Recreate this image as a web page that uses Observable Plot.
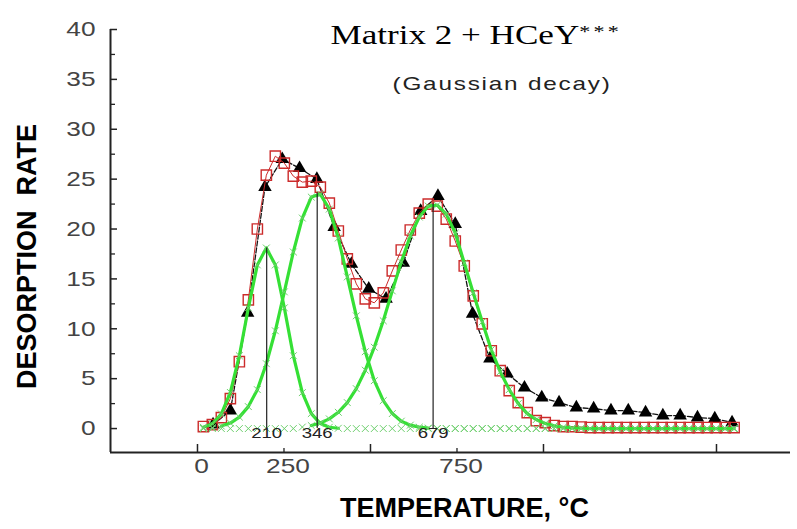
<!DOCTYPE html>
<html>
<head>
<meta charset="utf-8">
<script src="https://cdn.jsdelivr.net/npm/d3@7"></script>
<script src="https://cdn.jsdelivr.net/npm/@observablehq/plot@0.6"></script>
<style>
html, body { margin: 0; padding: 0; background: #fff; }
#chart { width: 797px; height: 529px; }
</style>
</head>
<body>
<div id="chart"></div>
<script>
// ---------- data ----------
const titleMain = "Matrix 2 + HCeY";
const titleSuffix = "***";
const subtitle = "(Gaussian decay)";
const xTitle = "TEMPERATURE, °C";
const yTitle = "DESORPTION  RATE";

// temperatures of the square markers / green fit markers (°C)
const gridT = [17,43,69,95,121,147,173,199,225,251,277,303,329,355,381,407,433,459,485,511,
  537,563,589,615,641,667,693,719,745,771,797,823,849,875,901,927,953,979,1005,1031,
  1057,1083,1109,1135,1161,1187,1213,1239,1265,1291,1317,1343,1369,1395,1421,1447,1473,1499,1525,1551];

// red open squares
const squareRate = [0.2,0.4,1.1,3.0,6.7,12.9,20.0,25.4,27.3,26.6,25.3,24.7,24.8,24.2,22.6,19.8,17.0,14.5,13.0,12.6,
  13.6,15.8,17.9,19.9,21.6,22.5,22.3,21.0,18.8,16.3,13.3,10.5,7.8,5.8,3.8,2.6,1.6,0.8,0.6,0.3,
  0.2,0.2,0.15,0.1,0.1,0.1,0.1,0.1,0.1,0.1,0.1,0.1,0.1,0.1,0.1,0.1,0.1,0.1,0.1,0.1];

// black filled triangles
const triangleT = [45,95,145,195,245,295,345,395,445,495,545,595,645,695,745,795,845,895,945,995,
  1045,1095,1145,1195,1245,1295,1345,1395,1445,1495,1545];
const triangleRate = [0.4,1.8,11.6,24.2,27.0,26.1,25.0,20.2,16.5,14.0,13.0,16.6,21.8,23.3,20.5,11.5,7.0,5.5,4.1,3.1,
  2.6,2.1,2.0,1.8,1.8,1.6,1.3,1.3,1.1,1.0,0.6];

// green Gaussian components, at gridT
const peak1 = [0.13,0.48,1.47,3.62,7.3,12.1,16.4,18.1,16.4,12.1,7.3,3.6,1.5,0.5,0.13,0.03,0,0,0,0,
  0,0,0,0,0,0,0,0,0,0,0,0,0,0,0,0,0,0,0,0,
  0,0,0,0,0,0,0,0,0,0,0,0,0,0,0,0,0,0,0,0];
const peak2 = [0.04,0.1,0.25,0.55,1.15,2.2,3.9,6.5,9.8,13.7,17.7,21.1,23.2,23.5,22.0,19.1,15.2,11.3,7.7,4.8,
  2.8,1.5,0.74,0.34,0.14,0.05,0,0,0,0,0,0,0,0,0,0,0,0,0,0,
  0,0,0,0,0,0,0,0,0,0,0,0,0,0,0,0,0,0,0,0];
const peak3 = [0,0,0,0,0,0,0,0,0,0,0,0.15,0.3,0.55,0.97,1.63,2.6,4.0,5.85,8.15,
  10.8,13.8,16.7,19.3,21.2,22.3,22.4,21.5,19.6,16.6,13.6,10.7,7.9,5.7,3.9,2.5,1.5,0.9,0.5,0.27,
  0.13,0.06,0.03,0,0,0,0,0,0,0,0,0,0,0,0,0,0,0,0,0];
// index range over which each component's thick line is drawn
const lineFrom = [0, 2, 12];
const lineTo = [15, 25, 59];

// peak positions (°C), heights and their labels
const peakT = [200, 346, 681];
const peakHeight = [18.1, 23.6, 22.5];
const peakLabels = ["210", "346", "679"];

// axes
const yTicks = [0,5,10,15,20,25,30,35,40];
const yMinorTicks = [2.5,7.5,12.5,17.5,22.5,27.5,32.5,37.5];
const xMajorTicks = [0,500,1000,1500];
const xMinorTicks = [250,750,1250];
const xTickLabels = [0,250,750];
const xDomain = [-251.4, 1713.9];
const yDomain = [-2.4, 40];

// ---------- build ----------
const W = 797, H = 529, mL = 110, mR = 7, mT = 29, mB = 77;
const frameW = W - mL - mR, frameH = H - mT - mB;
const GREEN = "#35e035", GREENX = "#6dcf6d", RED = "#cc2b2b", INK = "#222";

const squares = gridT.map((t, i) => ({t, v: squareRate[i]}));
const triangles = triangleT.map((t, i) => ({t, v: triangleRate[i]}));
const comps = [peak1, peak2, peak3].map((arr) => arr.map((v, i) => ({t: gridT[i], v, i})));
const compLines = comps.map((c, k) => c.filter(d => d.i >= lineFrom[k] && d.i <= lineTo[k]));
const peaks = peakT.map((t, i) => ({t, h: peakHeight[i], label: peakLabels[i]}));

const plot = Plot.plot({
  width: W, height: H,
  marginLeft: mL, marginRight: mR, marginTop: mT, marginBottom: mB,
  style: {fontFamily: "Liberation Sans, Arial, sans-serif", background: "#fff", overflow: "visible"},
  x: {domain: xDomain, axis: null},
  y: {domain: yDomain, axis: null},
  marks: [
    // data
    Plot.line(triangles, {x: "t", y: "v", stroke: "#111", strokeWidth: 1.3, strokeDasharray: "5,2"}),
    Plot.dot(triangles, {x: "t", y: "v", symbol: "triangle", r: 5, fill: "#000", stroke: "none"}),
    Plot.line(squares, {x: "t", y: "v", stroke: RED, strokeWidth: 1}),
    Plot.dot(squares, {x: "t", y: "v", symbol: "square", r: 5.8, fill: "none", stroke: RED, strokeWidth: 1.4}),
    ...compLines.map(c => Plot.line(c, {x: "t", y: "v", stroke: GREEN, strokeWidth: 3.2})),
    Plot.dot(comps.flat(), {x: "t", y: "v", symbol: "times", r: 3.2, stroke: GREENX, strokeWidth: 1}),
    Plot.ruleX(peaks, {x: "t", y1: 0, y2: "h", stroke: INK, strokeWidth: 1.2}),
    Plot.text(peaks, {x: "t", text: "label", frameAnchor: "bottom", dy: -14.5, fontSize: 14.5, fill: INK, ariaDescription: "peak-label"}),
    // axes
    Plot.ruleX([xDomain[0]], {stroke: INK, strokeWidth: 2}),
    Plot.ruleY([yDomain[0]], {stroke: INK, strokeWidth: 2}),
    Plot.tickY(yTicks, {y: d => d, insetRight: frameW - 7, stroke: INK, strokeWidth: 1.5}),
    Plot.tickY(yMinorTicks, {y: d => d, insetRight: frameW - 5, stroke: INK, strokeWidth: 1.3}),
    Plot.tickX(xMajorTicks, {x: d => d, insetTop: frameH - 8, stroke: INK, strokeWidth: 1.5}),
    Plot.tickX(xMinorTicks, {x: d => d, insetTop: frameH - 4, stroke: INK, strokeWidth: 1.3}),
    Plot.text(yTicks, {y: d => d, text: d => String(d), frameAnchor: "left", dx: -15, textAnchor: "end", fontSize: 21, fill: "#444", ariaDescription: "ytick-label"}),
    Plot.text(xTickLabels, {x: d => d, text: d => String(d), frameAnchor: "bottom", dy: 20, dx: 4, textAnchor: "middle", fontSize: 21, fill: "#444", ariaDescription: "xtick-label"}),
    Plot.text([yTitle], {text: d => d, frameAnchor: "left", dx: -83, dy: 15.5, rotate: -90, textAnchor: "middle", fontSize: 27, fontWeight: "bold", fill: "#000"}),
    Plot.text([xTitle], {text: d => d, frameAnchor: "bottom", dx: 14, dy: 64, textAnchor: "middle", fontSize: 27, fontWeight: "bold", fill: "#000"}),
    // titles
    Plot.text([titleMain], {text: d => d, frameAnchor: "top-left", dx: 220, dy: -4.6, textAnchor: "start", fontSize: 27, fontFamily: "Liberation Serif, Times New Roman, serif", fill: "#000", ariaDescription: "title"}),
    Plot.text([subtitle], {text: d => d, frameAnchor: "top-left", dx: 282, dy: 46.9, textAnchor: "start", fontSize: 19, fill: "#222", ariaDescription: "subtitle"})
  ]
});

document.getElementById("chart").appendChild(plot);

// ---------- text styling tweaks (horizontally stretched lettering of the original) ----------
function textsFor(label) {
  const out = [];
  plot.querySelectorAll(`[aria-description="${label}"]`).forEach(el => {
    if (el.tagName.toLowerCase() === "text") out.push(el);
    else el.querySelectorAll("text").forEach(t => out.push(t));
  });
  return out;
}
function stretch(label, s, spacing) {
  textsFor(label).forEach(t => {
    // scale horizontally about the text's own anchor point, keeping its position
    const ax = parseFloat(t.getAttribute("x")) || 0;
    const ay = parseFloat(t.getAttribute("y")) || 0;
    const tr = t.getAttribute("transform") || "";
    t.setAttribute("transform", `${tr} translate(${ax},${ay}) scale(${s},1) translate(${-ax},${-ay})`.trim());
    if (spacing) t.setAttribute("letter-spacing", spacing);
  });
}
const tt = textsFor("title")[0];
if (tt) {
  const ts = document.createElementNS("http://www.w3.org/2000/svg", "tspan");
  ts.textContent = titleSuffix;
  ts.setAttribute("font-size", "17");
  ts.setAttribute("dy", "-7");
  ts.setAttribute("letter-spacing", "2.5");
  tt.appendChild(ts);
}
stretch("title", 1.3);
stretch("subtitle", 1.28, 1.4);
stretch("ytick-label", 1.25);
stretch("xtick-label", 1.25);
stretch("peak-label", 1.28);
</script>
</body>
</html>
